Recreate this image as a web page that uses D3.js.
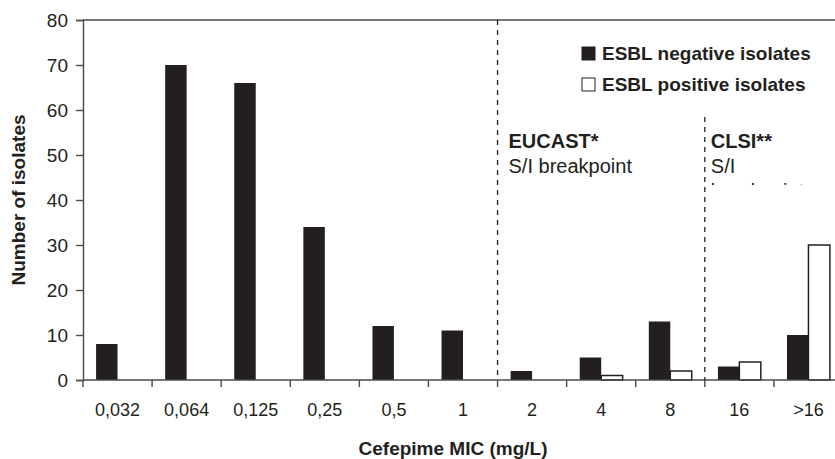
<!DOCTYPE html>
<html>
<head>
<meta charset="utf-8">
<script src="https://cdn.jsdelivr.net/npm/d3@7"></script>
<style>
  body { margin: 0; background: #fff; }
  text { font-family: "Liberation Sans", Arial, sans-serif; fill: #231f20; }
</style>
</head>
<body>
<div id="chart"></div>
<script>
// MIC categories and counts
var categories = ["0,032", "0,064", "0,125", "0,25", "0,5", "1", "2", "4", "8", "16", ">16"];
var negativeIsolates = [8, 70, 66, 34, 12, 11, 2, 5, 13, 3, 10];
var positiveIsolates = [0, 0, 0, 0, 0, 0, 0, 1, 2, 4, 30];
var seriesNames = ["ESBL negative isolates", "ESBL positive isolates"];
var yTicks = [0, 10, 20, 30, 40, 50, 60, 70, 80];

var width = 835, height = 459;
var margin = {top: 20, left: 83, bottom: 79};

var svg = d3.select("#chart").append("svg")
    .attr("width", width)
    .attr("height", height);

var x0 = d3.scaleBand()
    .domain(categories)
    .range([margin.left, 843])
    .padding(0);

var x1 = d3.scaleBand()
    .domain(seriesNames)
    .range([0, x0.bandwidth()])
    .paddingInner(0)
    .paddingOuter(0.61);

var y = d3.scaleLinear()
    .domain([0, 80])
    .range([height - margin.bottom, margin.top]);

var rows = categories.map(function(c, i) {
    return {cat: c, values: [
        {key: seriesNames[0], value: negativeIsolates[i]},
        {key: seriesNames[1], value: positiveIsolates[i]}
    ]};
});

var axisColor = "#4a4a4a";

// top frame line
svg.append("line")
    .attr("x1", margin.left).attr("x2", width)
    .attr("y1", y(80)).attr("y2", y(80))
    .attr("stroke", axisColor).attr("stroke-width", 1.4);

// y axis
var yAxis = svg.append("g")
    .attr("transform", "translate(" + margin.left + ",0)")
    .call(d3.axisLeft(y).tickValues(yTicks).tickSize(7).tickPadding(8));
yAxis.select(".domain").attr("stroke", axisColor).attr("stroke-width", 1.4);
yAxis.selectAll(".tick line").attr("stroke", axisColor).attr("stroke-width", 1.4);
yAxis.selectAll("text")
    .style("font-family", "Liberation Sans, Arial, sans-serif")
    .style("font-size", "19px")
    .attr("fill", "#231f20");

// x axis: ticks at band boundaries
var xAxisG = svg.append("g")
    .attr("transform", "translate(0," + y(0) + ")");
xAxisG.selectAll(".xtick")
    .data(categories)
    .enter().append("line")
    .attr("class", "xtick")
    .attr("x1", function(d) { return x0(d); })
    .attr("x2", function(d) { return x0(d); })
    .attr("y1", 0).attr("y2", 7)
    .attr("stroke", axisColor).attr("stroke-width", 1.4);
xAxisG.selectAll(".xlab")
    .data(categories)
    .enter().append("text")
    .attr("class", "xlab")
    .attr("x", function(d) { return x0(d) + x0.bandwidth() / 2; })
    .attr("y", 36)
    .attr("text-anchor", "middle")
    .style("font-size", "18px")
    .text(function(d) { return d; });

// bars
var groups = svg.selectAll(".grp")
    .data(rows)
    .enter().append("g")
    .attr("class", "grp")
    .attr("transform", function(d) { return "translate(" + x0(d.cat) + ",0)"; });

groups.selectAll("rect")
    .data(function(d) { return d.values.filter(function(v) { return v.value > 0; }); })
    .enter().append("rect")
    .attr("x", function(d) { return x1(d.key); })
    .attr("width", x1.bandwidth())
    .attr("y", function(d) { return y(d.value); })
    .attr("height", function(d) { return y(0) - y(d.value); })
    .attr("fill", function(d) { return d.key == seriesNames[0] ? "#231f20" : "#fff"; })
    .attr("stroke", function(d) { return d.key == seriesNames[0] ? "none" : "#231f20"; })
    .attr("stroke-width", 1.5);

xAxisG.raise().append("line")
    .attr("x1", margin.left).attr("x2", width)
    .attr("stroke", axisColor).attr("stroke-width", 1.6);

// breakpoint lines
var eucastX = x0("2");
var clsiX = x0("16");
svg.append("line")
    .attr("x1", eucastX).attr("x2", eucastX)
    .attr("y1", y(80)).attr("y2", y(0))
    .attr("stroke", "#231f20").attr("stroke-width", 1.3)
    .attr("stroke-dasharray", "5,5");
svg.append("line")
    .attr("x1", clsiX).attr("x2", clsiX)
    .attr("y1", 117).attr("y2", y(0))
    .attr("stroke", "#231f20").attr("stroke-width", 1.3)
    .attr("stroke-dasharray", "5,5");

// breakpoint labels
svg.append("text").attr("x", eucastX + 11).attr("y", 148)
    .style("font-size", "20px").style("font-weight", "bold").text("EUCAST*");
svg.append("text").attr("x", eucastX + 11).attr("y", 173)
    .style("font-size", "20px").text("S/I breakpoint");
svg.append("text").attr("x", clsiX + 6).attr("y", 148)
    .style("font-size", "20px").style("font-weight", "bold").text("CLSI**");
svg.append("text").attr("x", clsiX + 6).attr("y", 173)
    .style("font-size", "20px").text("S/I");

svg.append("clipPath").attr("id", "cut")
    .append("rect").attr("x", clsiX + 2).attr("y", 175).attr("width", 200).attr("height", 10);
svg.append("text").attr("x", clsiX + 6).attr("y", 198)
    .attr("clip-path", "url(#cut)")
    .style("font-size", "20px").text("breakpoint");

// legend
var legend = svg.selectAll(".leg")
    .data(seriesNames)
    .enter().append("g")
    .attr("class", "leg")
    .attr("transform", function(d, i) { return "translate(582," + (47 + i * 31) + ")"; });
legend.append("rect")
    .attr("width", 13).attr("height", 13)
    .attr("fill", function(d, i) { return i == 0 ? "#231f20" : "#fff"; })
    .attr("stroke", "#231f20").attr("stroke-width", 1);
legend.append("text")
    .attr("x", 20).attr("y", 13)
    .style("font-size", "19px").style("font-weight", "bold")
    .text(function(d) { return d; });

// axis titles
svg.append("text")
    .attr("transform", "translate(25," + ((y(0) + y(80)) / 2) + ") rotate(-90)")
    .attr("text-anchor", "middle")
    .style("font-size", "19px").style("font-weight", "bold")
    .text("Number of isolates");
svg.append("text")
    .attr("x", 453).attr("y", 455)
    .attr("text-anchor", "middle")
    .style("font-size", "19px").style("font-weight", "bold")
    .text("Cefepime MIC (mg/L)");
</script>
</body>
</html>
